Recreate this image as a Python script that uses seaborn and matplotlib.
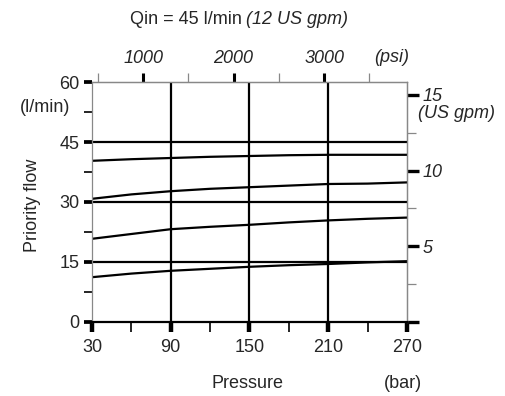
import numpy as np
import pandas as pd
import matplotlib
matplotlib.use("Agg")
import matplotlib.pyplot as plt
import seaborn as sns

# data (pressure in bar, priority flow in l/min)
pressure = [30, 60, 90, 120, 150, 180, 210, 240, 270]
flow_a = [40.3, 40.7, 41.0, 41.3, 41.5, 41.7, 41.8, 41.8, 41.8]
flow_b = [30.8, 31.9, 32.7, 33.3, 33.7, 34.1, 34.5, 34.6, 34.9]
flow_c = [20.8, 22.0, 23.2, 23.8, 24.3, 24.9, 25.4, 25.8, 26.1]
flow_d = [11.2, 12.1, 12.8, 13.3, 13.8, 14.2, 14.5, 14.9, 15.2]

bar_ticks = [30, 90, 150, 210, 270]
bar_minor = [60, 120, 180, 240]
flow_ticks = [0, 15, 30, 45, 60]
flow_minor = [7.5, 22.5, 37.5, 52.5]
psi_ticks = [1000, 2000, 3000]
psi_minor = [500, 1500, 2500, 3500]
gpm_ticks = [0, 5, 10, 15]
gpm_labels = ["", "5", "10", "15"]
gpm_minor = [2.5, 7.5, 12.5]
grid_pressure = [90, 150, 210]
grid_flow = [15, 30, 45]

df = pd.DataFrame({
    "Pressure": pressure * 4,
    "Flow": flow_a + flow_b + flow_c + flow_d,
    "curve": ["a"] * 9 + ["b"] * 9 + ["c"] * 9 + ["d"] * 9,
})

sns.set_style("white")
plt.rcParams["font.family"] = ["Liberation Sans", "DejaVu Sans"]
FS = 13

fig = plt.figure(figsize=(5.06, 3.96), dpi=100)
ax = fig.add_axes([0.1818, 0.1869, 0.6225, 0.606])

for v in grid_pressure:
    ax.axvline(v, color="black", lw=1.6, zorder=1)
for v in grid_flow:
    ax.axhline(v, color="black", lw=1.6, zorder=1)

sns.lineplot(data=df, x="Pressure", y="Flow", units="curve", estimator=None,
             color="black", lw=1.6, ax=ax, zorder=2)

ax.set_xlim(30, 270)
ax.set_ylim(0, 60)
ax.set_xlabel("")
ax.set_ylabel("")

for s in ["left", "right", "top"]:
    ax.spines[s].set_color("#888888")
    ax.spines[s].set_linewidth(0.9)
ax.spines["bottom"].set_color("black")
ax.spines["bottom"].set_linewidth(1.6)

ax.set_xticks(bar_ticks)
ax.set_xticks(bar_minor, minor=True)
ax.set_yticks(flow_ticks)
ax.set_yticks(flow_minor, minor=True)
ax.tick_params(axis="x", which="major", direction="out", length=7.5, width=3.2,
               color="black", labelsize=FS, pad=5, bottom=True, top=False)
ax.tick_params(axis="x", which="minor", direction="out", length=7.5, width=1.2,
               color="black", bottom=True, top=False)
ax.tick_params(axis="y", which="major", direction="out", length=6, width=2.7,
               color="black", labelsize=FS, pad=3, left=True, right=False)
ax.tick_params(axis="y", which="minor", direction="out", length=6, width=1.2,
               color="black", left=True, right=False)

# secondary axes
secx = ax.secondary_xaxis("top", functions=(lambda b: b * 14.5038, lambda p: p / 14.5038))
secx.set_xticks(psi_ticks)
secx.set_xticks(psi_minor, minor=True)
secx.tick_params(which="major", direction="out", length=6.5, width=2.2, color="black",
                 labelsize=FS, pad=4)
secx.tick_params(which="minor", direction="out", length=6.5, width=0.9, color="#888888")
for lab in secx.get_xticklabels():
    lab.set_fontstyle("italic")
secx.spines["top"].set_color("#888888")
secx.spines["top"].set_linewidth(0.9)

secy = ax.secondary_yaxis("right", functions=(lambda l: l / 3.78541, lambda g: g * 3.78541))
secy.set_yticks(gpm_ticks)
secy.set_yticklabels(gpm_labels)
secy.set_yticks(gpm_minor, minor=True)
secy.tick_params(which="major", direction="out", length=8.5, width=2.4, color="black",
                 labelsize=FS, pad=3)
secy.tick_params(which="minor", direction="out", length=6.5, width=0.9, color="#888888")
for lab in secy.get_yticklabels():
    lab.set_fontstyle("italic")
secy.spines["right"].set_color("#888888")
secy.spines["right"].set_linewidth(0.9)

# text labels
fig.text(242 / 506, 1 - 20 / 396, "Qin = 45 l/min", ha="right", va="center", fontsize=FS)
fig.text(246 / 506, 1 - 20 / 396, "(12 US gpm)", ha="left", va="center", fontsize=FS,
         fontstyle="italic")
fig.text(392 / 506, 1 - 57 / 396, "(psi)", ha="center", va="center", fontsize=FS,
         fontstyle="italic")
fig.text(418 / 506, 1 - 114 / 396, "(US gpm)", ha="left", va="center", fontsize=FS,
         fontstyle="italic")
fig.text(45 / 506, 1 - 107 / 396, "(l/min)", ha="center", va="center", fontsize=FS)
fig.text(33 / 506, 1 - 205 / 396, "Priority flow", ha="center", va="center",
         fontsize=FS, rotation=90)
fig.text(248 / 506, 1 - 383 / 396, "Pressure", ha="center", va="center", fontsize=FS)
fig.text(403 / 506, 1 - 383 / 396, "(bar)", ha="center", va="center", fontsize=FS)

fig.savefig("out.png", dpi=100)
